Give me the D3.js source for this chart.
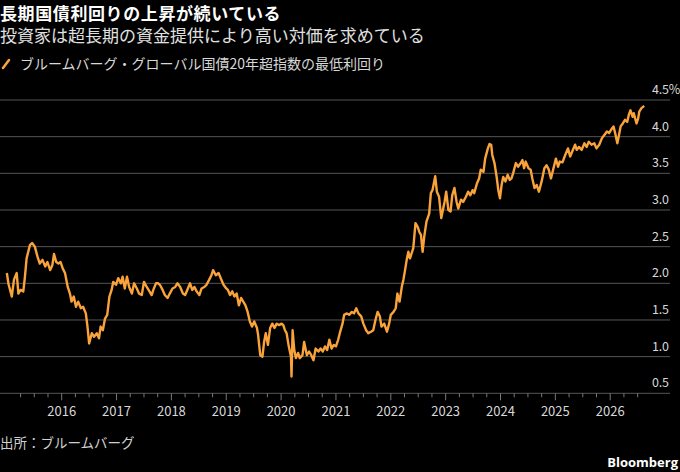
<!DOCTYPE html>
<html>
<head>
<meta charset="utf-8">
<script src="https://cdn.jsdelivr.net/npm/d3@7"></script>
<style>
  body { margin: 0; background: #000; }
  text { font-family: "Noto Sans CJK JP", "Noto Sans", sans-serif; }
</style>
</head>
<body>
<svg id="chart"></svg>
<script>
var W = 680, H = 472;

var title = "長期国債利回りの上昇が続いている";
var subtitle = "投資家は超長期の資金提供により高い対価を求めている";
var legendLabel = "ブルームバーグ・グローバル国債20年超指数の最低利回り";
var source = "出所：ブルームバーグ";

var yTicks = [0.5, 1.0, 1.5, 2.0, 2.5, 3.0, 3.5, 4.0, 4.5];
var yearTicks = [2016, 2017, 2018, 2019, 2020, 2021, 2022, 2023, 2024, 2025, 2026];

// date as decimal year
var when = [
  2015.00, 2015.03, 2015.09, 2015.13, 2015.18, 2015.21, 2015.25, 2015.30, 2015.33, 2015.36,
  2015.42, 2015.46, 2015.51, 2015.56, 2015.60, 2015.65, 2015.70, 2015.74, 2015.79, 2015.83,
  2015.86, 2015.90, 2015.94, 2015.98, 2016.02, 2016.06, 2016.11, 2016.15, 2016.18, 2016.22,
  2016.26, 2016.30, 2016.35, 2016.39, 2016.44, 2016.47, 2016.50, 2016.55, 2016.59, 2016.64,
  2016.68, 2016.71, 2016.75, 2016.79, 2016.83, 2016.87, 2016.91, 2016.94, 2016.99, 2017.03,
  2017.08, 2017.11, 2017.15, 2017.19, 2017.23, 2017.28, 2017.32, 2017.37, 2017.41, 2017.46,
  2017.50, 2017.55, 2017.60, 2017.64, 2017.67, 2017.72, 2017.76, 2017.79, 2017.84, 2017.88,
  2017.93, 2017.97, 2018.02, 2018.07, 2018.11, 2018.16, 2018.21, 2018.25, 2018.29, 2018.34,
  2018.38, 2018.42, 2018.46, 2018.51, 2018.55, 2018.60, 2018.64, 2018.69, 2018.73, 2018.76,
  2018.81, 2018.86, 2018.90, 2018.95, 2019.00, 2019.03, 2019.07, 2019.11, 2019.15, 2019.19,
  2019.23, 2019.27, 2019.31, 2019.35, 2019.39, 2019.43, 2019.47, 2019.51, 2019.56, 2019.58,
  2019.62, 2019.66, 2019.69, 2019.72, 2019.76, 2019.80, 2019.84, 2019.88, 2019.92, 2019.96,
  2020.01, 2020.04, 2020.07, 2020.10, 2020.14, 2020.18, 2020.19, 2020.21, 2020.24, 2020.27,
  2020.31, 2020.34, 2020.39, 2020.42, 2020.47, 2020.51, 2020.55, 2020.59, 2020.63, 2020.68,
  2020.72, 2020.76, 2020.80, 2020.84, 2020.88, 2020.92, 2020.96, 2021.00, 2021.04, 2021.07,
  2021.12, 2021.15, 2021.20, 2021.24, 2021.29, 2021.33, 2021.37, 2021.41, 2021.46, 2021.50,
  2021.55, 2021.59, 2021.64, 2021.68, 2021.72, 2021.76, 2021.80, 2021.83, 2021.88, 2021.93,
  2021.97, 2022.00, 2022.05, 2022.09, 2022.12, 2022.16, 2022.20, 2022.23, 2022.26, 2022.29,
  2022.32, 2022.35, 2022.38, 2022.41, 2022.45, 2022.49, 2022.52, 2022.55, 2022.58, 2022.61,
  2022.65, 2022.70, 2022.73, 2022.76, 2022.81, 2022.84, 2022.88, 2022.92, 2022.98, 2023.01,
  2023.05, 2023.09, 2023.12, 2023.16, 2023.20, 2023.23, 2023.28, 2023.32, 2023.37, 2023.41,
  2023.45, 2023.49, 2023.52, 2023.57, 2023.61, 2023.64, 2023.69, 2023.72, 2023.77, 2023.80,
  2023.83, 2023.85, 2023.89, 2023.93, 2023.96, 2023.99, 2024.02, 2024.05, 2024.09, 2024.13,
  2024.17, 2024.20, 2024.23, 2024.28, 2024.32, 2024.37, 2024.40, 2024.43, 2024.46, 2024.51,
  2024.55, 2024.58, 2024.62, 2024.66, 2024.70, 2024.75, 2024.80, 2024.84, 2024.88, 2024.92,
  2024.96, 2025.01, 2025.05, 2025.08, 2025.13, 2025.18, 2025.23, 2025.27, 2025.31, 2025.36,
  2025.39, 2025.43, 2025.48, 2025.53, 2025.57, 2025.61, 2025.66, 2025.71, 2025.75, 2025.80,
  2025.85, 2025.89, 2025.94, 2025.98, 2026.03, 2026.06, 2026.09, 2026.13, 2026.16, 2026.19,
  2026.23, 2026.27, 2026.31, 2026.34, 2026.37, 2026.41, 2026.43, 2026.48, 2026.51, 2026.53,
  2026.57, 2026.62
];

// yield to worst, %
var yld = [
  2.14, 1.99, 1.82, 2.05, 2.14, 1.86, 1.91, 1.89, 2.09, 2.34,
  2.52, 2.55, 2.50, 2.36, 2.27, 2.32, 2.23, 2.29, 2.18, 2.25,
  2.40, 2.29, 2.27, 2.29, 2.20, 2.14, 1.95, 1.86, 1.75, 1.82,
  1.68, 1.75, 1.66, 1.68, 1.59, 1.41, 1.18, 1.32, 1.27, 1.32,
  1.25, 1.41, 1.36, 1.52, 1.57, 1.82, 1.91, 2.02, 1.98, 2.07,
  2.00, 2.09, 1.93, 2.09, 1.95, 1.86, 2.00, 1.93, 1.86, 1.84,
  2.02, 1.95, 1.89, 1.84, 1.91, 2.00, 2.00, 1.98, 1.91, 1.84,
  1.80, 1.86, 1.93, 1.95, 2.00, 1.95, 1.86, 1.84, 1.91, 2.00,
  1.91, 1.95, 1.89, 1.84, 1.93, 1.95, 1.98, 2.05, 2.11, 2.18,
  2.11, 2.14, 2.07, 1.98, 1.93, 1.91, 1.84, 1.89, 1.82, 1.86,
  1.70, 1.80, 1.75, 1.70, 1.61, 1.48, 1.41, 1.48, 1.39, 1.30,
  1.02, 1.00, 1.20, 1.32, 1.16, 1.39, 1.45, 1.39, 1.45, 1.43,
  1.45, 1.43, 1.36, 1.32, 1.14, 1.00, 0.73, 1.36, 1.09, 0.98,
  1.05, 0.98, 1.02, 1.20, 1.02, 1.07, 1.02, 0.95, 1.11, 1.07,
  1.11, 1.07, 1.14, 1.09, 1.23, 1.11, 1.16, 1.14, 1.23, 1.32,
  1.45, 1.57, 1.59, 1.57, 1.61, 1.59, 1.66, 1.59, 1.55, 1.45,
  1.36, 1.32, 1.34, 1.36, 1.50, 1.61, 1.55, 1.41, 1.45, 1.34,
  1.45, 1.57, 1.61, 1.66, 1.86, 1.75, 1.95, 2.05, 2.18, 2.32,
  2.43, 2.34, 2.41, 2.48, 2.82, 2.77, 2.70, 2.66, 2.43, 2.64,
  2.84, 2.95, 3.23, 3.27, 3.46, 3.25, 3.18, 2.89, 3.11, 3.25,
  3.00, 2.98, 3.20, 3.30, 3.11, 3.02, 3.14, 3.11, 3.18, 3.25,
  3.20, 3.27, 3.23, 3.36, 3.43, 3.55, 3.52, 3.70, 3.84, 3.90,
  3.89, 3.75, 3.64, 3.45, 3.27, 3.16, 3.34, 3.45, 3.39, 3.48,
  3.41, 3.43, 3.50, 3.64, 3.59, 3.64, 3.68, 3.57, 3.66, 3.57,
  3.55, 3.43, 3.30, 3.34, 3.25, 3.39, 3.57, 3.61, 3.55, 3.43,
  3.55, 3.70, 3.59, 3.66, 3.65, 3.75, 3.84, 3.73, 3.80, 3.89,
  3.82, 3.86, 3.82, 3.91, 3.86, 3.93, 3.89, 3.91, 3.84, 3.89,
  3.98, 4.02, 4.07, 4.05, 4.11, 4.14, 4.05, 3.91, 4.02, 4.14,
  4.18, 4.23, 4.20, 4.30, 4.36, 4.27, 4.32, 4.18, 4.25, 4.34,
  4.39, 4.42
];

var data = when.map(function (t, i) { return { t: t, v: yld[i] }; });

var svg = d3.select("#chart").attr("width", W).attr("height", H);
svg.append("rect").attr("width", W).attr("height", H).attr("fill", "#000");

// year -> px and % -> px, placed to sit like the original
var x = d3.scaleLinear().domain([2016, 2026]).range([61.7, 610.2]);
var y = d3.scaleLinear().domain([0.5, 4.5]).range([393.3, 100]);

// headings
svg.append("text").attr("x", 0).attr("y", 20)
  .attr("fill", "#fff").attr("font-size", "17px").attr("font-weight", "bold")
  .attr("letter-spacing", "0.6px")
  .text(title);
svg.append("text").attr("x", 0).attr("y", 42)
  .attr("fill", "#e0e0e0").attr("font-size", "17px")
  .text(subtitle);

// legend
svg.append("line").attr("x1", 3).attr("y1", 68).attr("x2", 9).attr("y2", 60)
  .attr("stroke", "#f9a33a").attr("stroke-width", 2.5).attr("stroke-linecap", "round");
svg.append("text").attr("x", 20).attr("y", 69)
  .attr("fill", "#d8d8d8").attr("font-size", "14px")
  .text(legendLabel);

// gridlines + y labels
var grid = svg.append("g");
yTicks.forEach(function (v) {
  grid.append("line")
    .attr("x1", 0).attr("x2", 670)
    .attr("y1", y(v)).attr("y2", y(v))
    .attr("stroke", "#555").attr("stroke-width", 1);
  grid.append("text")
    .attr("x", 652).attr("y", y(v) - 6)
    .attr("fill", "#d8d8d8").attr("font-size", "12.5px")
    .attr("letter-spacing", "-0.2px")
    .text(v.toFixed(1) + (v === 4.5 ? "%" : ""));
});

// x axis ticks: quarters small, years long
var quarters = d3.range(2015.25, 2026.51, 0.25);
svg.append("g").selectAll("line").data(quarters).enter().append("line")
  .attr("x1", function (d) { return x(d); }).attr("x2", function (d) { return x(d); })
  .attr("y1", y(0.5))
  .attr("y2", function (d) { return y(0.5) + (Math.abs(d - Math.round(d)) < 0.01 ? 7 : 4); })
  .attr("stroke", "#777").attr("stroke-width", 1);

svg.append("g").selectAll("text").data(yearTicks).enter().append("text")
  .attr("x", function (d) { return x(d); }).attr("y", 416)
  .attr("text-anchor", "middle")
  .attr("fill", "#d8d8d8").attr("font-size", "13px")
  .text(function (d) { return d; });

// the series
var line = d3.line()
  .x(function (d) { return x(d.t); })
  .y(function (d) { return y(d.v); });
svg.append("path").datum(data)
  .attr("d", line)
  .attr("fill", "none")
  .attr("stroke", "#f9a33a")
  .attr("stroke-width", 2.4)
  .attr("stroke-linejoin", "round");

// footer
svg.append("text").attr("x", 0).attr("y", 448)
  .attr("fill", "#d0d0d0").attr("font-size", "13.5px")
  .text(source);
svg.append("text").attr("x", 678).attr("y", 467)
  .attr("text-anchor", "end")
  .attr("fill", "#fff").attr("font-size", "13px").attr("font-weight", "bold")
  .style("font-family", "'Open Sans', 'Noto Sans', sans-serif")
  .text("Bloomberg");
</script>
</body>
</html>
